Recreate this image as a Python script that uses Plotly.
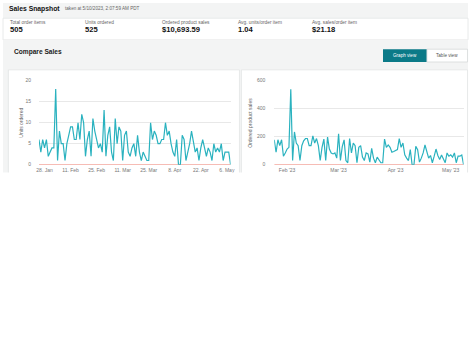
import pandas as pd
import plotly.graph_objects as go

# ---------------- data ----------------
start_date = "2023-01-25"
units_ordered = [
    6, 3, 6, 4, 6, 2, 3, 4, 4, 18,
    1, 8, 5, 5, 1, 5, 7, 9, 9, 6,
    6, 10, 6, 12, 10, 2, 6, 8, 2, 11,
    8, 6, 4, 5, 3, 13, 2, 7, 9, 3,
    1, 11, 5, 9, 8, 1, 7, 8, 3, 2,
    4, 5, 2, 7, 3, 1, 3, 2, 1, 1,
    10, 6, 8, 7, 5, 5, 6, 6, 10, 7,
    8, 5, 3, 2, 6, 0, 0, 7, 6, 1,
    3, 5, 8, 5, 3, 4, 1, 4, 6, 4,
    2, 4, 3, 1, 5, 3, 4, 3, 5, 1,
    3, 3, 3, 0,
]
product_sales = [
    178, 89, 178, 136, 178, 61, 84, 112, 124, 539,
    30, 234, 155, 136, 30, 136, 171, 187, 187, 136,
    136, 206, 155, 187, 136, 30, 124, 183, 30, 197,
    112, 84, 77, 84, 47, 220, 30, 129, 178, 30,
    14, 187, 84, 155, 136, 14, 124, 136, 54, 30,
    84, 77, 19, 117, 47, 14, 54, 30, 14, 14,
    183, 124, 141, 124, 89, 94, 101, 108, 187, 124,
    155, 70, 47, 30, 108, 0, 0, 131, 108, 19,
    47, 84, 141, 84, 47, 66, 14, 61, 112, 66,
    37, 70, 47, 14, 84, 61, 70, 54, 84, 14,
    61, 61, 70, 0,
]
compare_units = [
    0, 0, 0, 0, 0, 0, 0, 0, 0, 0, 0, 0, 0, 0, 0, 0, 0, 0, 0, 0,
    0, 0, 0, 0, 0, 0, 0, 0, 0, 0, 0, 0, 0, 0, 0, 0, 0, 0, 0, 0,
    0, 0, 0, 0, 0, 0, 0, 0, 0, 0, 0, 0, 0, 0, 0, 0, 0, 0, 0, 0,
    0, 0, 0, 0, 0, 0, 0, 0, 0, 0, 0, 0, 0, 0, 0, 0, 0, 0, 0, 0,
    0, 0, 0, 0, 0, 0, 0, 0, 0, 0, 0, 0, 0, 0, 0, 0, 0, 0, 0, 0,
    0, 0, 0, 0,
]
compare_sales = list(compare_units)

units_tickvals = ["2023-01-28", "2023-02-11", "2023-02-25", "2023-03-11",
                  "2023-03-25", "2023-04-08", "2023-04-22", "2023-05-06"]
units_ticktext = ["28. Jan", "11. Feb", "25. Feb", "11. Mar",
                  "25. Mar", "8. Apr", "22. Apr", "6. May"]
sales_tickvals = ["2023-02-01", "2023-03-01", "2023-04-01", "2023-05-01"]
sales_ticktext = ["Feb '23", "Mar '23", "Apr '23", "May '23"]
units_yticks = [0, 5, 10, 15, 20]
sales_yticks = [0, 200, 400, 600]

metric_labels = ["Total order items", "Units ordered", "Ordered product sales",
                 "Avg. units/order item", "Avg. sales/order item"]
metric_values = ["505", "525", "$10,693.59", "1.04", "$21.18"]

dates = pd.date_range(start_date, periods=len(units_ordered), freq="D")

# ---------------- geometry helpers ----------------
W, H = 474, 355
def fx(x):
    return x / W
def fy(y):
    return 1 - y / H

FONT = "Liberation Sans, Arial, sans-serif"
TEAL = "#2ab2bf"
SALMON = "#f3a69c"
GRID = "#e8e8e8"
BG = "#f3f4f4"
BORDER = "#e2e5e5"

fig = go.Figure()

fig.add_trace(go.Scatter(x=dates, y=compare_units, mode="lines",
                         line=dict(color=SALMON, width=1.5), xaxis="x", yaxis="y",
                         hoverinfo="skip"))
fig.add_trace(go.Scatter(x=dates, y=units_ordered, mode="lines",
                         line=dict(color=TEAL, width=1.2), xaxis="x", yaxis="y"))
fig.add_trace(go.Scatter(x=dates, y=compare_sales, mode="lines",
                         line=dict(color=SALMON, width=1.5), xaxis="x2", yaxis="y2",
                         hoverinfo="skip"))
fig.add_trace(go.Scatter(x=dates, y=product_sales, mode="lines",
                         line=dict(color=TEAL, width=1.2), xaxis="x2", yaxis="y2"))

ydom = [fy(164.5), fy(79)]
tickfont = dict(family=FONT, size=5, color="#777")

fig.update_layout(
    width=W, height=H, margin=dict(l=0, r=0, t=0, b=0),
    paper_bgcolor="white", plot_bgcolor="white", showlegend=False,
    font=dict(family=FONT),
    xaxis=dict(domain=[fx(36.5), fx(231)], range=[dates[0], dates[-1]],
               tickvals=units_tickvals, ticktext=units_ticktext, tickfont=tickfont,
               showgrid=False, zeroline=False, showline=False, ticks="",
               ticklabelstandoff=1, anchor="y"),
    yaxis=dict(domain=ydom, range=[0, 20], tickvals=units_yticks, tickfont=tickfont,
               showgrid=True, gridcolor=GRID, gridwidth=0.7, zeroline=False,
               showline=False, ticks="", ticklabelstandoff=7, anchor="x"),
    xaxis2=dict(domain=[fx(275.3), fx(467.5)], range=[dates[0], dates[-1]],
                tickvals=sales_tickvals, ticktext=sales_ticktext, tickfont=tickfont,
                showgrid=False, zeroline=False, showline=False, ticks="",
                ticklabelstandoff=1, anchor="y2"),
    yaxis2=dict(domain=ydom, range=[0, 600], tickvals=sales_yticks, tickfont=tickfont,
                showgrid=True, gridcolor=GRID, gridwidth=0.7, zeroline=False,
                showline=False, ticks="", ticklabelstandoff=8, anchor="x2"),
)

shapes = []
def rect(x0, y0, x1, y1, fill, line=None, layer="below", lw=0.8):
    shapes.append(dict(type="rect", xref="paper", yref="paper",
                       x0=fx(x0), x1=fx(x1), y0=fy(y1), y1=fy(y0),
                       fillcolor=fill, layer=layer,
                       line=dict(color=line or fill, width=lw if line else 0)))

# page backgrounds
rect(0, 0, 472, 15.5, BG)
rect(0, 15.5, 472, 37.5, "white", BORDER)
rect(0, 37.5, 472, 173, BG)
# chart panels
rect(5.5, 68, 240, 180, "white", BORDER)
rect(242, 68, 471.5, 180, "white", BORDER)
# buttons
rect(385.7, 47, 430.3, 60, "#0b7a88")
rect(430.3, 47, 471.5, 60, "white", "#d5d9d9")
# crop of the screenshot
rect(0, 172.5, 474, 355, "white", layer="above")
fig.update_layout(shapes=shapes)

ann = []
def text(x, y, s, size, color="#111", xanchor="left", angle=0):
    ann.append(dict(xref="paper", yref="paper", x=fx(x), y=fy(y), text=s,
                    showarrow=False, xanchor=xanchor, yanchor="middle",
                    textangle=angle,
                    font=dict(family=FONT, size=size, color=color)))

text(4.5, 6, "<b>Sales Snapshot</b>", 6.8, "#111")
text(60.5, 6, "taken at 5/10/2023, 2:07:59 AM PDT", 4.6, "#666")

metric_x = [5.5, 81.5, 159, 236, 311.5]
for mx, lab, val in zip(metric_x, metric_labels, metric_values):
    text(mx, 19.8, lab, 4.8, "#666")
    text(mx, 27.2, "<b>" + val + "</b>", 7.6, "#111")

text(9.5, 50.2, "<b>Compare Sales</b>", 6.6, "#222")
text(408, 53.5, "Graph view", 4.6, "white", xanchor="center")
text(451, 53.5, "Table view", 4.6, "#555", xanchor="center")

text(18, 122, "Units ordered", 5, "#666", xanchor="center", angle=-90)
text(250.5, 122, "Ordered product sales", 5, "#666", xanchor="center", angle=-90)

fig.update_layout(annotations=ann)

fig.write_html("out.html", config={"displayModeBar": False},
               post_script="document.body.style.margin='0';")
